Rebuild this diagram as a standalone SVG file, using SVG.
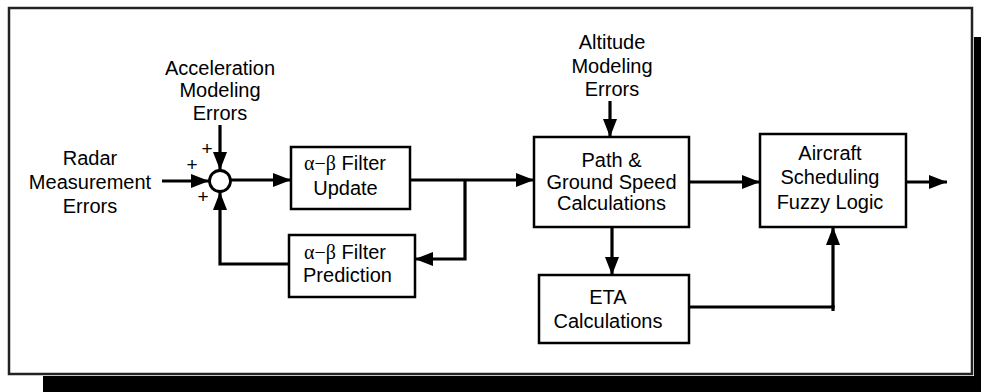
<svg xmlns="http://www.w3.org/2000/svg" width="981" height="392" viewBox="0 0 981 392">
<defs>
<style>
.t{font-family:"Liberation Sans",Arial,Helvetica,sans-serif;font-size:20px;fill:#000;text-anchor:middle}
.g{font-family:"Liberation Serif","Times New Roman",serif}
.p{font-size:19px}
.box{fill:#fff;stroke:#000;stroke-width:2.5}
.ln{fill:none;stroke:#000;stroke-width:3.2}
.ar{marker-end:url(#ah)}
</style>
<marker id="ah" markerUnits="userSpaceOnUse" viewBox="0 0 18 14" markerWidth="18" markerHeight="14" refX="18" refY="7" orient="auto">
<path d="M0,0 L18,7 L0,14 z" fill="#000"/>
</marker>
</defs>
<rect x="0" y="0" width="981" height="392" fill="#fff"/>
<g id="frame">
<rect x="43" y="376" width="938" height="16" fill="#000"/>
<rect x="974" y="37" width="7" height="355" fill="#000"/>
<rect x="9" y="8" width="963" height="366" fill="#fff" stroke="#222" stroke-width="2.5"/>
</g>
<g id="connectors">
<path class="ln ar" d="M162,181 H209"/>
<path class="ln ar" d="M220,125 V170"/>
<path class="ln ar" d="M231,180 H291"/>
<path class="ln ar" d="M410,180 H534"/>
<path class="ln ar" d="M465,180 V259 H415"/>
<path class="ln ar" d="M289,264 H220 V192"/>
<path class="ln ar" d="M610,101 V137"/>
<path class="ln ar" d="M689,182 H760"/>
<path class="ln ar" d="M906,182 H947"/>
<path class="ln ar" d="M612,227 V275"/>
<path class="ln ar" d="M689,307 H833 V227"/>
<path class="ln" d="M833,305 V311"/>
</g>
<g id="radar-errors">
<text class="t" x="90" y="165">Radar</text>
<text class="t" x="90" y="189">Measurement</text>
<text class="t" x="90" y="213">Errors</text>
</g>
<g id="acceleration-errors">
<text class="t" x="220" y="75">Acceleration</text>
<text class="t" x="220" y="97">Modeling</text>
<text class="t" x="220" y="120">Errors</text>
</g>
<g id="summing-junction">
<circle cx="220" cy="181" r="10.5" fill="#fff" stroke="#000" stroke-width="2.8"/>
<text class="t p" x="207" y="155">+</text>
<text class="t p" x="192" y="171">+</text>
<text class="t p" x="203" y="203">+</text>
</g>
<g id="filter-update">
<rect class="box" x="291" y="147" width="119" height="62"/>
<text class="t" x="345" y="170"><tspan class="g">α−β</tspan> Filter</text>
<text class="t" x="345.5" y="195">Update</text>
</g>
<g id="filter-prediction">
<rect class="box" x="289" y="235" width="126" height="62"/>
<text class="t" x="345" y="259"><tspan class="g">α−β</tspan> Filter</text>
<text class="t" x="347.5" y="282">Prediction</text>
</g>
<g id="altitude-errors">
<text class="t" x="612" y="49">Altitude</text>
<text class="t" x="612" y="73">Modeling</text>
<text class="t" x="612" y="96">Errors</text>
</g>
<g id="path-ground-speed">
<rect class="box" x="534" y="137" width="155" height="90"/>
<text class="t" x="611.5" y="167">Path &amp;</text>
<text class="t" x="611.5" y="189">Ground Speed</text>
<text class="t" x="611.5" y="210">Calculations</text>
</g>
<g id="aircraft-scheduling">
<rect class="box" x="760" y="134" width="146" height="93"/>
<text class="t" x="830" y="160">Aircraft</text>
<text class="t" x="830" y="184">Scheduling</text>
<text class="t" x="830" y="209">Fuzzy Logic</text>
</g>
<g id="eta-calculations">
<rect class="box" x="539" y="275" width="150" height="68"/>
<text class="t" x="608" y="304">ETA</text>
<text class="t" x="608" y="328">Calculations</text>
</g>
</svg>
